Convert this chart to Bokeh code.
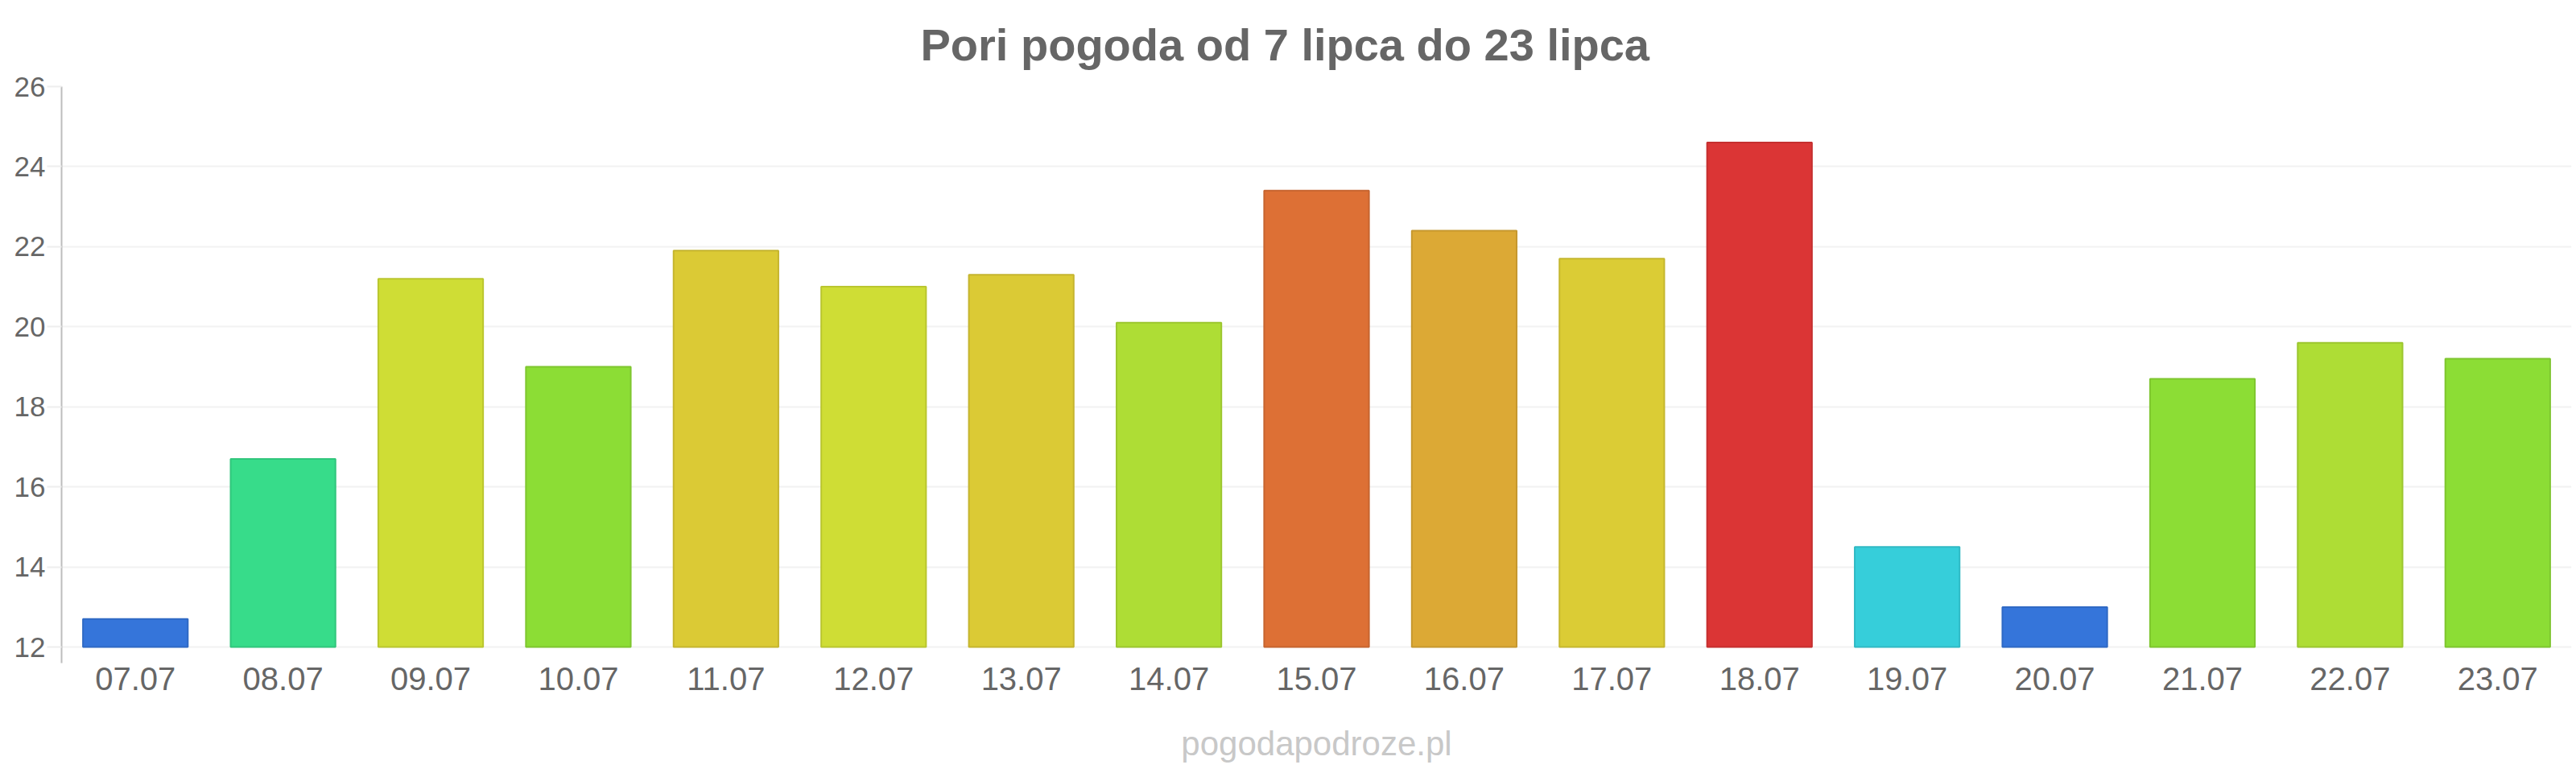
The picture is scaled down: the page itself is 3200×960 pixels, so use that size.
from bokeh.plotting import figure
from bokeh.models import FactorRange, Range1d, FixedTicker, ColumnDataSource
from bokeh.embed import file_html
from bokeh.resources import INLINE

dates = ["07.07", "08.07", "09.07", "10.07", "11.07", "12.07", "13.07", "14.07", "15.07",
         "16.07", "17.07", "18.07", "19.07", "20.07", "21.07", "22.07", "23.07"]
temps = [12.7, 16.7, 21.2, 19.0, 21.9, 21.0, 21.3, 20.1, 23.4,
         22.4, 21.7, 24.6, 14.5, 13.0, 18.7, 19.6, 19.2]
y_ticks = [12, 14, 16, 18, 20, 22, 24, 26]

bar_colors = ["#3575da", "#37dc8a", "#cfdd35", "#8cdd35", "#dbca35", "#cfdd35", "#dbca35",
              "#aedd35", "#dd7035", "#dca935", "#dbcc35", "#db3535", "#36ceda", "#3575da",
              "#8cdd35", "#aedd35", "#8cdd35"]


def darker(h, f=0.9):
    r, g, b = int(h[1:3], 16), int(h[3:5], 16), int(h[5:7], 16)
    return "#%02x%02x%02x" % (int(r * f), int(g * f), int(b * f))


border_colors = [darker(c) for c in bar_colors]

src = ColumnDataSource(dict(d=dates, t=temps, c=bar_colors, b=border_colors))

FONT = "Liberation Sans"

p = figure(width=3200, height=960, x_range=FactorRange(*dates), y_range=Range1d(11.6, 26),
           output_backend="svg", toolbar_location=None,
           min_border_left=76, min_border_right=6, min_border_top=107, min_border_bottom=137)
p.outline_line_color = None
p.background_fill_color = "white"
p.border_fill_color = "white"

p.title.text = "Pori pogoda od 7 lipca do 23 lipca"
p.title.text_font = FONT
p.title.text_font_size = "56px"
p.title.text_font_style = "bold"
p.title.text_color = "#666666"
p.title.align = "left"
p.title.offset = 1067
p.title.vertical_align = "middle"
p.title.standoff = 40

p.vbar(x="d", top="t", bottom=12, width=0.71, fill_color="c", line_color="b",
       line_width=2, source=src)

p.yaxis.ticker = FixedTicker(ticks=y_ticks)
p.yaxis.major_label_text_font = FONT
p.yaxis.major_label_text_font_size = "35px"
p.yaxis.major_label_text_color = "#666666"
p.yaxis.major_tick_out = 18
p.yaxis.major_tick_in = 0
p.yaxis.major_tick_line_color = "#eeeeee"
p.yaxis.major_tick_line_width = 2
p.yaxis.minor_tick_line_color = None
p.yaxis.axis_line_color = "#bdbdbd"
p.yaxis.axis_line_width = 2
p.yaxis.major_label_standoff = 2

p.xaxis.major_label_text_font = FONT
p.xaxis.major_label_text_font_size = "40px"
p.xaxis.major_label_text_color = "#666666"
p.xaxis.axis_line_color = None
p.xaxis.major_tick_line_color = None
p.xaxis.major_tick_out = 0
p.xaxis.major_tick_in = 0
p.xaxis.minor_tick_line_color = None
p.xaxis.minor_tick_out = 0
p.xaxis.major_label_standoff = 5

p.xaxis.axis_label = "pogodapodroze.pl"
p.xaxis.axis_label_text_font = FONT
p.xaxis.axis_label_text_font_size = "42px"
p.xaxis.axis_label_text_font_style = "normal"
p.xaxis.axis_label_text_color = "#c8c8c8"
p.xaxis.axis_label_standoff = 40

p.xgrid.grid_line_color = None
p.ygrid.grid_line_color = "#f2f2f2"
p.ygrid.grid_line_width = 2

open("out.html", "w").write(file_html(p, INLINE))
